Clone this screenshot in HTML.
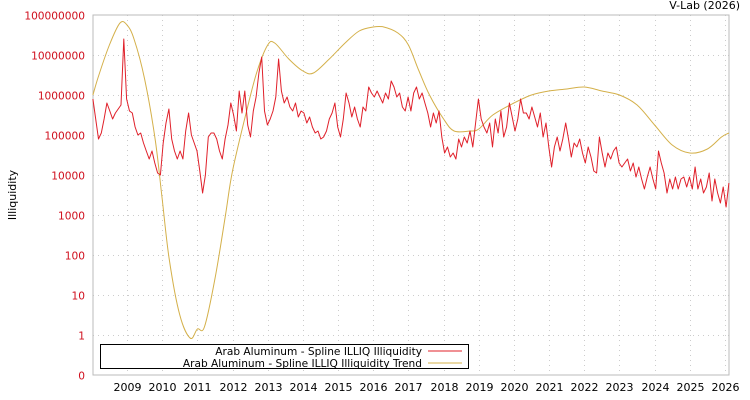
<!DOCTYPE html>
<html><head><meta charset="utf-8"><style>
html,body{margin:0;padding:0;background:#fff;}
svg{display:block;font-family:"DejaVu Sans","Liberation Sans",sans-serif;}
</style></head><body>
<svg id="chart" width="750" height="400" viewBox="0 0 750 400">
<text x="740" y="9" font-size="11" text-anchor="end" fill="#000">V-Lab (2026)</text>
<text transform="translate(16,195) rotate(-90)" font-size="11" text-anchor="middle" fill="#000">Illiquidity</text>
<g id="grid"></g>
<g id="ylabels"></g>
<g id="xlabels"></g>
<rect x="93" y="15" width="636" height="360" fill="none" stroke="#bbb" stroke-width="1"/>
<g id="series"></g>
<g>
<rect x="100.5" y="344.5" width="368" height="24" fill="#fff" stroke="#000"/>
<text x="422" y="355" font-size="10.6" text-anchor="end">Arab Aluminum - Spline ILLIQ Illiquidity</text>
<line x1="428" y1="351" x2="462" y2="351" stroke="#e0202a"/>
<text x="422" y="367" font-size="10.6" text-anchor="end">Arab Aluminum - Spline ILLIQ Illiquidity Trend</text>
<line x1="428" y1="363" x2="462" y2="363" stroke="#d4b04a"/>
</g>
</svg>
<script>
const yTickLabels = ["0","1","10","100","1000","10000","100000","1000000","10000000","100000000"];
const yTickLogs = [-1,0,1,2,3,4,5,6,7,8];
const xYears = [2009,2010,2011,2012,2013,2014,2015,2016,2017,2018,2019,2020,2021,2022,2023,2024,2025,2026];
const illiqStart = 2008.03;
const illiqEnd = 2026.11;
const illiqLog10 = [5.9,5.4,4.9,5.05,5.4,5.8,5.6,5.4,5.55,5.65,5.75,7.4,5.9,5.6,5.55,5.2,5.0,5.05,4.8,4.6,4.4,4.6,4.3,4.05,4.0,4.8,5.3,5.65,4.9,4.6,4.4,4.6,4.4,5.1,5.55,5.0,4.8,4.6,4.1,3.55,4.0,4.95,5.05,5.05,4.9,4.6,4.4,4.9,5.25,5.8,5.5,5.1,6.1,5.55,6.1,5.25,4.95,5.6,5.95,6.55,6.95,5.6,5.25,5.4,5.6,5.95,6.9,6.1,5.8,5.95,5.7,5.6,5.8,5.45,5.6,5.55,5.3,5.45,5.2,5.05,5.1,4.9,4.95,5.1,5.4,5.55,5.8,5.2,4.95,5.4,6.05,5.8,5.45,5.7,5.4,5.2,5.7,5.6,6.2,6.05,5.95,6.1,5.95,5.8,6.05,5.9,6.35,6.2,5.95,6.05,5.7,5.6,5.95,5.6,6.05,6.2,5.9,6.05,5.8,5.55,5.2,5.55,5.3,5.6,4.95,4.55,4.7,4.45,4.55,4.4,4.9,4.7,4.95,4.8,5.1,4.7,5.3,5.9,5.4,5.2,5.05,5.3,4.7,5.4,5.05,5.6,4.95,5.2,5.8,5.45,5.1,5.4,5.9,5.55,5.55,5.4,5.7,5.45,5.2,5.55,4.95,5.3,4.7,4.2,4.7,4.95,4.6,4.9,5.3,4.9,4.45,4.8,4.7,4.9,4.55,4.3,4.7,4.45,4.1,4.05,4.95,4.55,4.2,4.55,4.4,4.6,4.7,4.3,4.2,4.3,4.4,4.1,4.3,3.95,4.2,3.9,3.65,3.95,4.2,3.9,3.65,4.6,4.3,4.05,3.55,3.9,3.65,3.95,3.65,3.9,3.95,3.7,3.95,3.65,4.2,3.65,3.9,3.55,3.7,4.05,3.35,3.9,3.55,3.3,3.7,3.2,3.8];
const trendYears = [2008.03,2008.2,2008.5,2008.8,2009.0,2009.2,2009.5,2009.8,2010.0,2010.2,2010.5,2010.8,2011.0,2011.2,2011.5,2011.8,2012.0,2012.4,2012.7,2013.0,2013.2,2013.6,2014.0,2014.3,2014.75,2015.2,2015.6,2016.0,2016.3,2016.7,2017.0,2017.3,2017.6,2018.0,2018.3,2018.75,2019.0,2019.4,2020.0,2020.5,2021.0,2021.5,2022.0,2022.5,2023.0,2023.5,2024.0,2024.5,2025.0,2025.5,2025.9,2026.11];
const trendLog10 = [6.0,6.5,7.25,7.8,7.75,7.4,6.4,4.9,3.4,1.9,0.5,-0.08,0.15,0.2,1.4,3.0,4.1,5.6,6.6,7.25,7.3,6.9,6.6,6.55,6.9,7.3,7.6,7.7,7.7,7.55,7.25,6.6,6.0,5.4,5.1,5.1,5.15,5.5,5.8,6.0,6.1,6.15,6.2,6.1,6.0,5.75,5.25,4.75,4.55,4.65,4.95,5.05];

const NS="http://www.w3.org/2000/svg";
const L=93,R=729,T=15,B=375;
const xScale=y=>127+(y-2009)*(725-127)/17;
const yScale=l=>B-(l+1)*(B-T)/9;
function mk(tag,attrs,parent){const e=document.createElementNS(NS,tag);for(const k in attrs)e.setAttribute(k,attrs[k]);parent.appendChild(e);return e;}
const grid=document.getElementById('grid'),yl=document.getElementById('ylabels'),xl=document.getElementById('xlabels'),ser=document.getElementById('series');
yTickLogs.forEach((l,i)=>{const y=Math.round(yScale(l))+0.5;
 if(i>0&&i<yTickLogs.length-1){const g=mk('line',{x1:L,x2:R,y1:y,y2:y,stroke:'#ccc','stroke-dasharray':'1,4'},grid);
 
 }
 const t=mk('text',{x:85,y:y+4,'font-size':10.6,'text-anchor':'end',fill:'#d0101e'},yl);t.textContent=yTickLabels[i];
 
 
});
xYears.forEach(yr=>{const x=Math.round(xScale(yr))+0.5;
 if(x<R){const g=mk('line',{x1:x,x2:x,y1:T,y2:B,stroke:'#ccc','stroke-dasharray':'1,4'},grid);
 
 }
 const t=mk('text',{x:x,y:391,'font-size':11,'text-anchor':'middle',fill:'#000'},xl);t.textContent=yr;
 
 
});
const tp=trendYears.map((y,i)=>[xScale(y),yScale(trendLog10[i])]);
let d='M'+tp[0][0].toFixed(1)+','+tp[0][1].toFixed(1);
for(let i=0;i<tp.length-1;i++){const p0=tp[Math.max(0,i-1)],p1=tp[i],p2=tp[i+1],p3=tp[Math.min(tp.length-1,i+2)];
 const c1=[p1[0]+(p2[0]-p0[0])/6,p1[1]+(p2[1]-p0[1])/6],c2=[p2[0]-(p3[0]-p1[0])/6,p2[1]-(p3[1]-p1[1])/6];
 d+='C'+c1.map(v=>v.toFixed(1))+' '+c2.map(v=>v.toFixed(1))+' '+p2.map(v=>v.toFixed(1));}
const tr=mk('path',{d:d,fill:'none',stroke:'#d4b04a','stroke-width':1},ser);


const n=illiqLog10.length;
const pts=illiqLog10.map((v,i)=>{const yr=illiqStart+(illiqEnd-illiqStart)*i/(n-1);return xScale(yr).toFixed(1)+','+yScale(v).toFixed(1);});
const il=mk('polyline',{points:pts.join(' '),fill:'none',stroke:'#e0202a','stroke-width':1,'stroke-linejoin':'round'},ser);


</script>
</body></html>
